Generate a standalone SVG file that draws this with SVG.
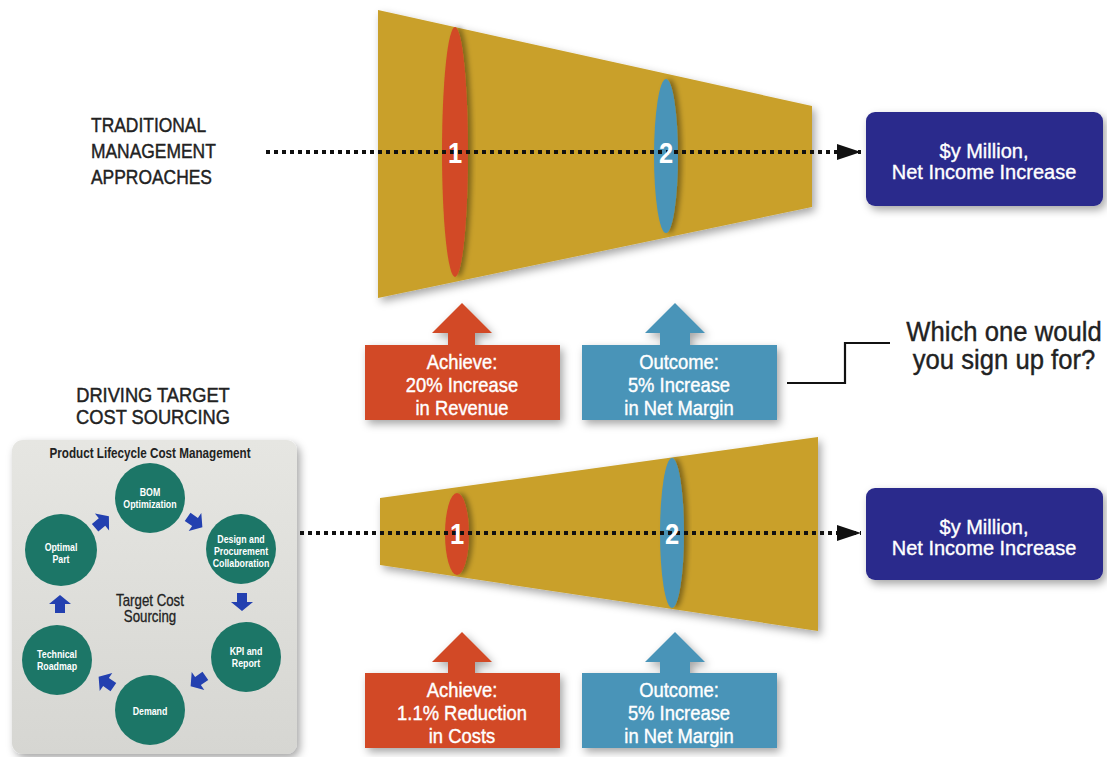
<svg xmlns="http://www.w3.org/2000/svg" width="1107" height="757" viewBox="0 0 1107 757">
<defs>
<style>
.t{font-family:"Liberation Sans",Arial,sans-serif;}
.lbl{font-size:21px;fill:#222;stroke:#222;stroke-width:0.45;}
.box{font-size:20px;fill:#fff;text-anchor:middle;stroke:#fff;stroke-width:0.4;}
.res{font-size:20px;fill:#fff;text-anchor:middle;stroke:#fff;stroke-width:0.35;}
.num{font-family:"Liberation Sans",Arial,sans-serif;font-size:30px;font-weight:bold;fill:#fff;text-anchor:middle;}
.cir{font-size:11px;font-weight:bold;fill:#fff;text-anchor:middle;}
.dot{stroke:#111;stroke-width:4;stroke-dasharray:4 4;fill:none;}
.funnel{fill:#c9a02a;}
.red{fill:#d24a26;}
.blu{fill:#4a94b8;}
.navy{fill:#2c2a8c;}
.teal{fill:#1c7667;}
.barr{fill:#2340b0;}
</style>
<filter id="sh" x="-20%" y="-20%" width="140%" height="150%">
<feDropShadow dx="3" dy="4" stdDeviation="4" flood-color="#000" flood-opacity="0.35"/>
</filter>
<filter id="shs" x="-30%" y="-30%" width="160%" height="160%">
<feDropShadow dx="4" dy="0" stdDeviation="2.5" flood-color="#000" flood-opacity="0.35"/>
</filter>
<marker id="ah" markerWidth="24" markerHeight="16" refX="24" refY="8" orient="auto" markerUnits="userSpaceOnUse">
<path d="M0,0 L24,8 L0,16 Z" fill="#111"/>
</marker>
<linearGradient id="pg" x1="0" y1="0" x2="0" y2="1">
<stop offset="0" stop-color="#e6e6e2"/>
<stop offset="1" stop-color="#d6d6d2"/>
</linearGradient>
<path id="sa" d="M-9,-5 L0,-5 L0,-11 L9,0 L0,11 L0,5 L-9,5 Z"/>
</defs>
<rect width="1107" height="757" fill="#fff"/>

<!-- labels -->
<g id="label-traditional" class="t lbl">
<text transform="translate(91,132) scale(0.83,1)">TRADITIONAL</text>
<text transform="translate(91,158) scale(0.83,1)">MANAGEMENT</text>
<text transform="translate(91,184) scale(0.83,1)">APPROACHES</text>
</g>
<g id="label-driving" class="t lbl" text-anchor="middle">
<text transform="translate(153,402) scale(0.87,1)">DRIVING TARGET</text>
<text transform="translate(153,424) scale(0.87,1)">COST SOURCING</text>
</g>

<!-- top funnel -->
<g id="funnel-top">
<polygon class="funnel" points="378,10 812,106 812,207 378,298" filter="url(#sh)"/>
<ellipse class="red" cx="455" cy="152" rx="13" ry="125" filter="url(#shs)"/>
<ellipse class="blu" cx="666" cy="156" rx="12" ry="77" filter="url(#shs)"/>
</g>

<!-- bottom funnel -->
<g id="funnel-bottom">
<polygon class="funnel" points="380,498 818,437 818,631 380,565" filter="url(#sh)"/>
<ellipse class="red" cx="457" cy="534" rx="12" ry="41" filter="url(#shs)"/>
<ellipse class="blu" cx="672" cy="533" rx="12" ry="75" filter="url(#shs)"/>
</g>

<!-- connectors -->
<g id="connectors">
<line class="dot" x1="266" y1="152" x2="861" y2="152" marker-end="url(#ah)"/>
<line class="dot" x1="300" y1="533" x2="861" y2="533" marker-end="url(#ah)"/>
<polyline points="787,383 845,383 845,343 890,343" fill="none" stroke="#111" stroke-width="2.2"/>
</g>

<g id="numbers">
<text class="num" transform="translate(455,163) scale(0.85,1)">1</text>
<text class="num" transform="translate(666,163) scale(0.85,1)">2</text>
<text class="num" transform="translate(457,544) scale(0.85,1)">1</text>
<text class="num" transform="translate(672,544) scale(0.85,1)">2</text>
</g>

<!-- result boxes -->
<g id="result-top">
<rect class="navy" x="866" y="112" width="237" height="94" rx="9" filter="url(#sh)"/>
<text class="t res" x="984" y="158">$y Million,</text>
<text class="t res" x="984" y="179">Net Income Increase</text>
</g>
<g id="result-bottom">
<rect class="navy" x="866" y="488" width="237" height="92" rx="9" filter="url(#sh)"/>
<text class="t res" x="984" y="534">$y Million,</text>
<text class="t res" x="984" y="555">Net Income Increase</text>
</g>

<!-- arrow boxes top -->
<g id="achieve-top">
<polygon class="red" points="462,303 492,333 475,333 475,345 560,345 560,420 365,420 365,345 448,345 448,333 432,333" filter="url(#sh)"/>
<text class="t box" transform="translate(462,369) scale(0.92,1)">Achieve:</text>
<text class="t box" transform="translate(462,392) scale(0.92,1)">20% Increase</text>
<text class="t box" transform="translate(462,415) scale(0.92,1)">in Revenue</text>
</g>
<g id="outcome-top">
<polygon class="blu" points="675,303 705,333 690,333 690,345 777,345 777,420 582,420 582,345 660,345 660,333 645,333" filter="url(#sh)"/>
<text class="t box" transform="translate(679,369) scale(0.92,1)">Outcome:</text>
<text class="t box" transform="translate(679,392) scale(0.92,1)">5% Increase</text>
<text class="t box" transform="translate(679,415) scale(0.92,1)">in Net Margin</text>
</g>

<!-- arrow boxes bottom -->
<g id="achieve-bottom">
<polygon class="red" points="462,632 492,662 475,662 475,673 560,673 560,748 365,748 365,673 448,673 448,662 432,662" filter="url(#sh)"/>
<text class="t box" transform="translate(462,697) scale(0.92,1)">Achieve:</text>
<text class="t box" transform="translate(462,720) scale(0.92,1)">1.1% Reduction</text>
<text class="t box" transform="translate(462,743) scale(0.92,1)">in Costs</text>
</g>
<g id="outcome-bottom">
<polygon class="blu" points="675,632 705,662 690,662 690,673 777,673 777,748 582,748 582,673 660,673 660,662 645,662" filter="url(#sh)"/>
<text class="t box" transform="translate(679,697) scale(0.92,1)">Outcome:</text>
<text class="t box" transform="translate(679,720) scale(0.92,1)">5% Increase</text>
<text class="t box" transform="translate(679,743) scale(0.92,1)">in Net Margin</text>
</g>

<!-- question -->
<g id="question" class="t" font-size="27" fill="#222" stroke="#222" stroke-width="0.4" text-anchor="middle">
<text transform="translate(1004,341) scale(0.95,1)">Which one would</text>
<text transform="translate(1004,369) scale(0.95,1)">you sign up for?</text>
</g>

<!-- product lifecycle panel -->
<g id="panel">
<rect x="12" y="440" width="285" height="314" rx="11" fill="url(#pg)" filter="url(#sh)"/>
<text class="t" transform="translate(150,458) scale(0.835,1)" font-size="14" font-weight="bold" fill="#222" text-anchor="middle">Product Lifecycle Cost Management</text>
<text class="t" transform="translate(150,606) scale(0.83,1)" font-size="16" fill="#222" stroke="#222" stroke-width="0.3" text-anchor="middle">Target Cost</text>
<text class="t" transform="translate(150,622) scale(0.83,1)" font-size="16" fill="#222" stroke="#222" stroke-width="0.3" text-anchor="middle">Sourcing</text>
</g>
<g id="node-bom">
<circle class="teal" cx="150" cy="498" r="35"/>
<text class="t cir" transform="translate(150,496) scale(0.8,1)">BOM</text>
<text class="t cir" transform="translate(150,508) scale(0.8,1)">Optimization</text>
</g>
<g id="node-design">
<circle class="teal" cx="241" cy="549" r="35"/>
<text class="t cir" transform="translate(241,543) scale(0.8,1)">Design and</text>
<text class="t cir" transform="translate(241,555) scale(0.8,1)">Procurement</text>
<text class="t cir" transform="translate(241,567) scale(0.8,1)">Collaboration</text>
</g>
<g id="node-kpi">
<circle class="teal" cx="246" cy="657" r="35"/>
<text class="t cir" transform="translate(246,655) scale(0.8,1)">KPI and</text>
<text class="t cir" transform="translate(246,667) scale(0.8,1)">Report</text>
</g>
<g id="node-demand">
<circle class="teal" cx="150" cy="710" r="35"/>
<text class="t cir" transform="translate(150,715) scale(0.8,1)">Demand</text>
</g>
<g id="node-technical">
<circle class="teal" cx="57" cy="660" r="35"/>
<text class="t cir" transform="translate(57,658) scale(0.8,1)">Technical</text>
<text class="t cir" transform="translate(57,670) scale(0.8,1)">Roadmap</text>
</g>
<g id="node-optimal">
<circle class="teal" cx="61" cy="550" r="36"/>
<text class="t cir" transform="translate(61,551) scale(0.8,1)">Optimal</text>
<text class="t cir" transform="translate(61,563) scale(0.8,1)">Part</text>
</g>
<g id="cycle-arrows" class="barr">
<use href="#sa" transform="translate(195,522) rotate(35)"/>
<use href="#sa" transform="translate(242,602) rotate(90)"/>
<use href="#sa" transform="translate(198,681) rotate(145)"/>
<use href="#sa" transform="translate(106,682) rotate(-145)"/>
<use href="#sa" transform="translate(60,604) rotate(-90)"/>
<use href="#sa" transform="translate(102,522) rotate(-40)"/>
</g>
</svg>
